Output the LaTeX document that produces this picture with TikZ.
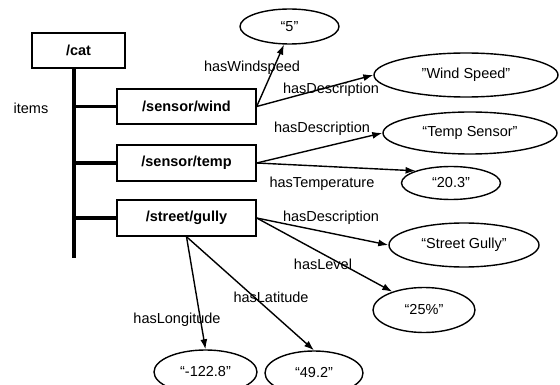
\documentclass[tikz,border=0pt]{standalone}
\usepackage{fontspec}
\setmainfont{Liberation Sans}
\usetikzlibrary{shapes.geometric,arrows.meta}
\begin{document}
\begin{tikzpicture}[x=1pt,y=-1pt,
  every node/.style={font=\fontsize{14.5}{17}\selectfont},
  resbox/.style={draw,line width=1.4pt,minimum width=139pt,minimum height=35pt,inner sep=0pt,font=\fontsize{14.5}{17}\selectfont\bfseries},
  lit/.style={draw,ellipse,line width=1.4pt,inner sep=0pt},
  rel/.style={line width=1.4pt,-{Latex[length=10pt,width=7pt]}},
  trunk/.style={line width=3.2pt},
  lbl/.style={inner sep=0pt}]
\useasboundingbox (0,0) rectangle (560,385);

% resources
\node[resbox,minimum width=93pt] (cat) at (78.5,50.5) {/cat};
\node[resbox] (wind) at (186.5,106.5) {/sensor/wind};
\node[resbox,minimum height=36pt] (temp) at (186.5,163) {/sensor/temp};
\node[resbox,minimum height=36pt] (gully) at (186.5,218) {/street/gully};

% items trunk
\coordinate (tr) at (74,68);
\coordinate (trb) at (74,258);
\draw[trunk] (tr) -- (trb);
\draw[trunk] (tr |- wind.west) -- (wind.west);
\draw[trunk] (tr |- temp.west) -- (temp.west);
\draw[trunk] (tr |- gully.west) -- (gully.west);
\node[lbl] (items) at (31,108) {items};

% literals
\node[lit,minimum width=99pt,minimum height=35pt] (five) at (289.5,26.5) {“5”};
\node[lit,minimum width=184pt,minimum height=44pt] (ws) at (466,75) {\symbol{34}Wind Speed\symbol{34}};
\node[lit,minimum width=174pt,minimum height=42pt] (ts) at (470,133) {“Temp Sensor”};
\node[lit,minimum width=99pt,minimum height=33pt] (t203) at (451,183) {“20.3”};
\node[lit,minimum width=150pt,minimum height=44pt] (sg) at (464,245) {“Street Gully”};
\node[lit,minimum width=102pt,minimum height=45pt] (p25) at (424,310) {“25\%”};
\node[lit,minimum width=103pt,minimum height=44pt] (lon) at (205.5,372) {“-122.8”};
\node[lit,minimum width=98pt,minimum height=44pt] (lat) at (314,373) {“49.2”};

% relations
\draw[rel] (wind.east) -- (five.253);
\draw[rel] (wind.east) -- (ws.west);
\draw[rel] (temp.east) -- (ts.west);
\draw[rel] (temp.east) -- (t203.161);
\draw[rel] (gully.east) -- (sg.west);
\draw[rel] (gully.east) -- (p25.150);
\draw[rel] (gully.south) -- (lon.north);
\draw[rel] (gully.south) -- (lat.north);

% relation labels
\node[lbl] (l1) at (252,68) {hasWindspeed};
\node[lbl] (l2) at (331,90) {hasDescription};
\node[lbl] (l3) at (322,129) {hasDescription};
\node[lbl] (l4) at (322,184) {hasTemperature};
\node[lbl] (l5) at (331,218) {hasDescription};
\node[lbl] (l6) at (323,264) {hasLevel};
\node[lbl] (l7) at (271,297) {hasLatitude};
\node[lbl] (l8) at (177,320) {hasLongitude};
\end{tikzpicture}
\end{document}
